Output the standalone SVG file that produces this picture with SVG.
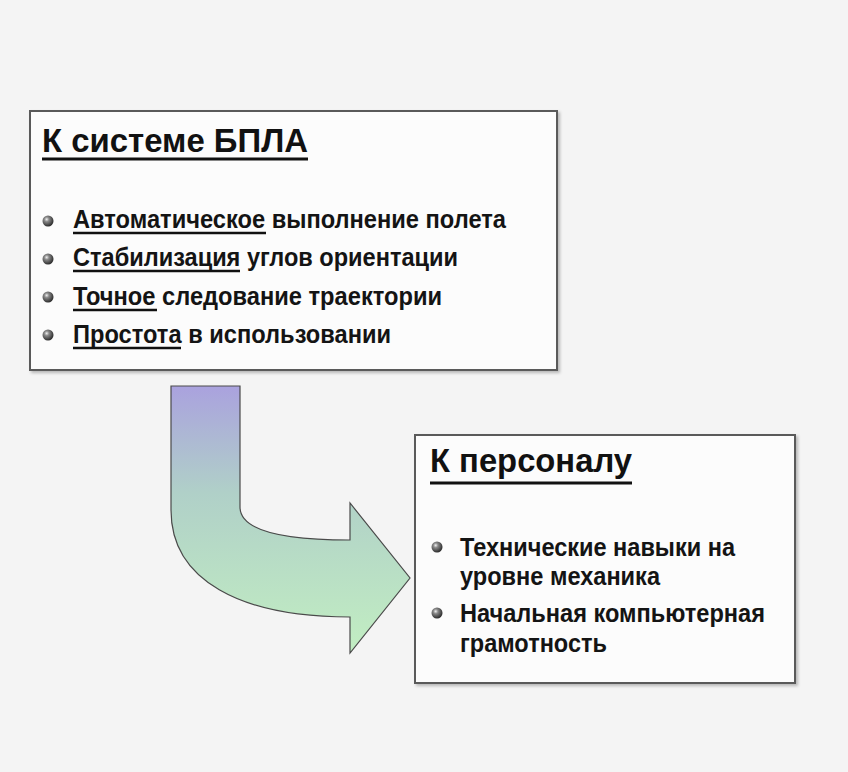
<svg xmlns="http://www.w3.org/2000/svg" width="848" height="772" viewBox="0 0 848 772">
<defs>
<linearGradient id="arrowGrad" x1="0" y1="0" x2="0" y2="1">
<stop offset="0" stop-color="#aaa2de"/>
<stop offset="0.4" stop-color="#b0d0c8"/>
<stop offset="1" stop-color="#c2eec2"/>
</linearGradient>
<radialGradient id="ball" cx="0.38" cy="0.35" r="0.7">
<stop offset="0" stop-color="#f0f0f0"/>
<stop offset="0.3" stop-color="#8a8a8a"/>
<stop offset="1" stop-color="#222222"/>
</radialGradient>
<filter id="sh" x="-5%" y="-5%" width="110%" height="110%">
<feDropShadow dx="2" dy="2" stdDeviation="1.5" flood-color="#000" flood-opacity="0.25"/>
</filter>
</defs>
<style>
.box{fill:#fcfcfc;stroke:#5a5a5a;stroke-width:2}
.title{font-family:"Liberation Sans Narrow","Liberation Sans",Arial,sans-serif;font-size:34px;font-weight:bold;fill:#111}
.item{font-family:"Liberation Sans Narrow","Liberation Sans",Arial,sans-serif;font-size:26px;font-weight:bold;fill:#141414}
.ul{stroke:#111;stroke-width:2.5}
.ult{stroke:#111;stroke-width:3}
.bul{fill:url(#ball)}
</style>
<rect width="848" height="772" fill="#f4f4f4"/>
<g id="connectors">
<path d="M171,386 L240,386 L240,507 C240,530 280,540 350,540 L350,503 L410,578 L350,653 L350,617 C240,617 171,580 171,510 Z" fill="url(#arrowGrad)" stroke="#4a4a4a" stroke-width="1.2" stroke-linejoin="miter"/>
</g>
<g id="node-system">
<rect class="box" x="30" y="111" width="527" height="259" filter="url(#sh)"/>
<text class="title" x="42" y="152" textLength="266" lengthAdjust="spacingAndGlyphs">К системе БПЛА</text>
<line class="ult" x1="42" y1="159" x2="308" y2="159"/>
<circle class="bul" cx="48" cy="221" r="5.5"/>
<circle class="bul" cx="48" cy="259" r="5.5"/>
<circle class="bul" cx="48" cy="297" r="5.5"/>
<circle class="bul" cx="48" cy="335" r="5.5"/>
<text class="item" x="73" y="228" textLength="433" lengthAdjust="spacingAndGlyphs">Автоматическое выполнение полета</text>
<line class="ul" x1="73" y1="233" x2="266" y2="233"/>
<text class="item" x="73" y="266" textLength="385" lengthAdjust="spacingAndGlyphs">Стабилизация углов ориентации</text>
<line class="ul" x1="73" y1="271" x2="240" y2="271"/>
<text class="item" x="73" y="305" textLength="369" lengthAdjust="spacingAndGlyphs">Точное следование траектории</text>
<line class="ul" x1="73" y1="310" x2="157" y2="310"/>
<text class="item" x="73" y="343" textLength="318" lengthAdjust="spacingAndGlyphs">Простота в использовании</text>
<line class="ul" x1="73" y1="348" x2="181" y2="348"/>
</g>
<g id="node-personnel">
<rect class="box" x="415" y="435" width="380" height="248" filter="url(#sh)"/>
<text class="title" x="430" y="472" textLength="202" lengthAdjust="spacingAndGlyphs">К персоналу</text>
<line class="ult" x1="430" y1="483" x2="632" y2="483"/>
<circle class="bul" cx="437" cy="547" r="5.5"/>
<circle class="bul" cx="437" cy="613" r="5.5"/>
<text class="item" x="460" y="556" textLength="275" lengthAdjust="spacingAndGlyphs">Технические навыки на</text>
<text class="item" x="460" y="585" textLength="200" lengthAdjust="spacingAndGlyphs">уровне механика</text>
<text class="item" x="460" y="622" textLength="305" lengthAdjust="spacingAndGlyphs">Начальная компьютерная</text>
<text class="item" x="460" y="652" textLength="147" lengthAdjust="spacingAndGlyphs">грамотность</text>
</g>
</svg>
